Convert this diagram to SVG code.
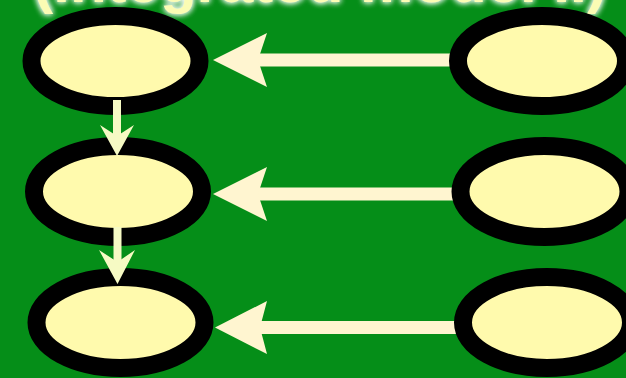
<svg xmlns="http://www.w3.org/2000/svg" width="626" height="378" viewBox="0 0 626 378">
<defs>
<style>
.node{fill:#fffaad;stroke:#000;stroke-width:18}
.hl{stroke:#fff5d0;stroke-width:13;fill:none}
.hh{fill:#fff5d0}
.vl{stroke:#f6fac4;stroke-width:8;fill:none}
.vh{fill:#f6fac4}
.title{font-family:"Liberation Sans",Arial,sans-serif;font-weight:bold;font-size:60px;fill:#fbfcb4}
</style>
<filter id="glow" x="-10%" y="-50%" width="120%" height="200%">
<feGaussianBlur in="SourceAlpha" stdDeviation="3" result="b"/>
<feFlood flood-color="#ffffff"/>
<feComposite in2="b" operator="in" result="g"/>
<feMerge><feMergeNode in="g"/><feMergeNode in="g"/><feMergeNode in="SourceGraphic"/></feMerge>
</filter>
</defs>
<rect x="0" y="0" width="626" height="378" fill="#058e18"/>
<text class="title" x="320" y="2" text-anchor="middle" filter="url(#glow)">(integrated model II)</text>
<g id="connectors">
<line class="hl" x1="258" y1="60" x2="452" y2="60"/>
<path class="hh" d="M213,60 L267,33 L258,60 L267,87 Z"/>
<line class="hl" x1="258" y1="194" x2="456" y2="194"/>
<path class="hh" d="M213,194 L267,167 L258,194 L267,221 Z"/>
<line class="hl" x1="260" y1="327.5" x2="458" y2="327.5"/>
<path class="hh" d="M215,327.5 L267,301 L260,327.5 L267,354 Z"/>
</g>
<g id="n1"><ellipse class="node" cx="115.5" cy="61" rx="84" ry="45"/></g>
<g id="n2"><ellipse class="node" cx="118" cy="191.5" rx="84" ry="45.5"/></g>
<g id="n3"><ellipse class="node" cx="120.5" cy="322.5" rx="84" ry="45.5"/></g>
<g id="n4"><ellipse class="node" cx="542" cy="61" rx="84" ry="45"/></g>
<g id="n5"><ellipse class="node" cx="544.5" cy="191.5" rx="84" ry="45.5"/></g>
<g id="n6"><ellipse class="node" cx="547" cy="322.5" rx="84" ry="45.5"/></g>
<g id="vconnectors">
<line class="vl" x1="117" y1="100" x2="117" y2="136"/>
<path class="vh" d="M117,156 L100,125 L117,136 L134,125 Z"/>
<line class="vl" x1="117.5" y1="227" x2="117.5" y2="262"/>
<path class="vh" d="M117.5,284 L99,250 L117.5,262 L135,250 Z"/>
</g>
</svg>
